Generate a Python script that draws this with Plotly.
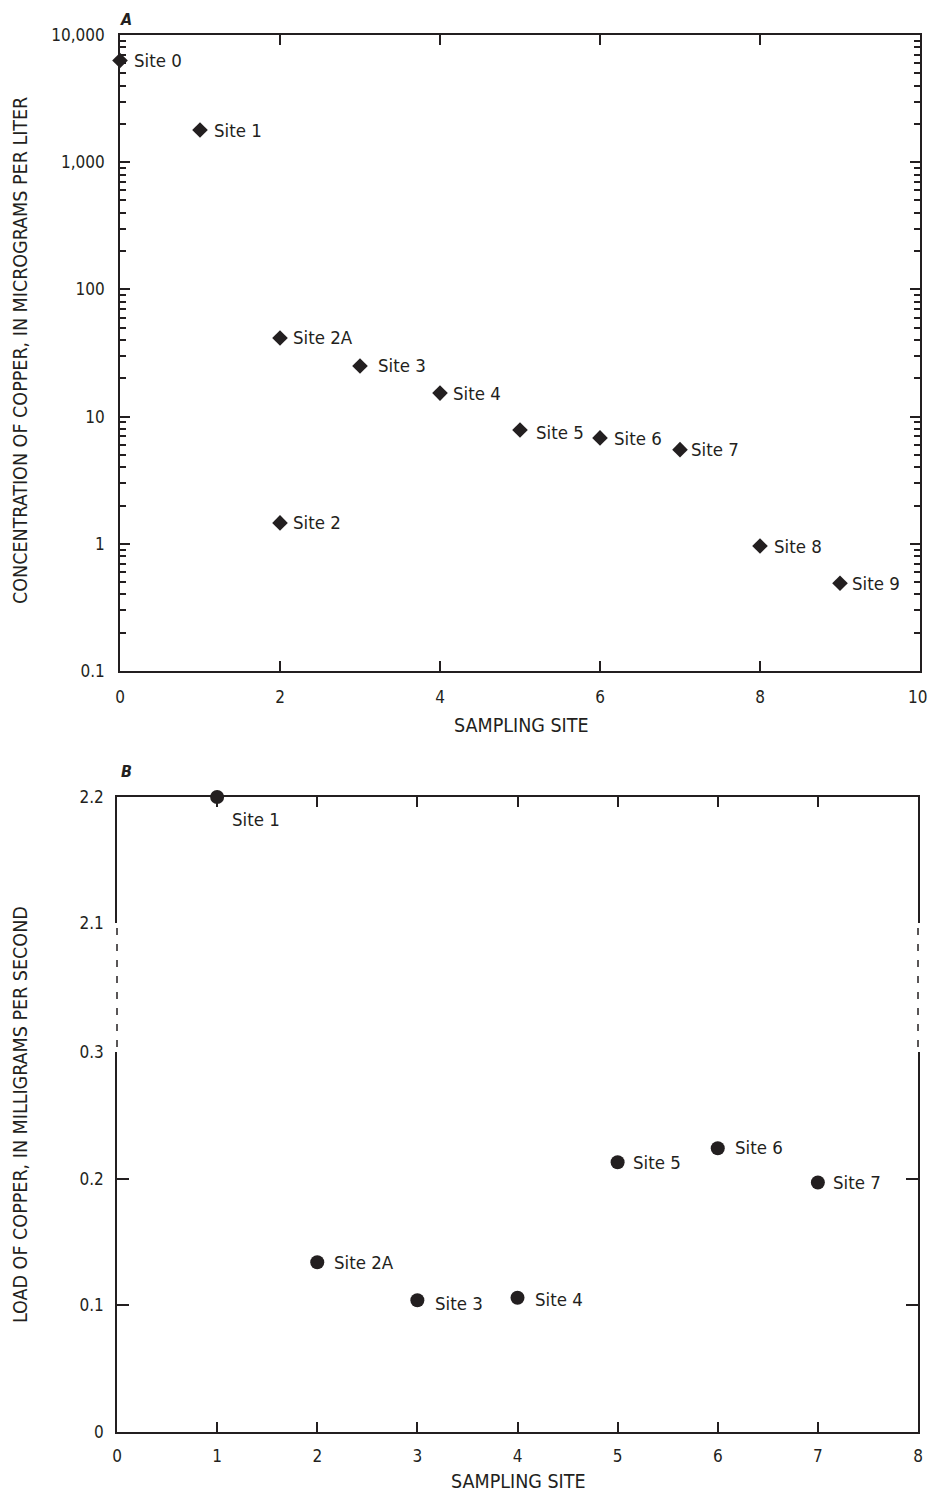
import math
import plotly.graph_objects as go

# ---------------- data ----------------
# Panel A: concentration of copper (micrograms per liter)
a_sites = ["Site 0", "Site 1", "Site 2A", "Site 2", "Site 3", "Site 4",
           "Site 5", "Site 6", "Site 7", "Site 8", "Site 9"]
a_x = [0, 1, 2, 2, 3, 4, 5, 6, 7, 8, 9]
a_conc = [6300, 1790, 41.5, 1.46, 25, 15.3, 7.85, 6.8, 5.5, 0.96, 0.49]
a_ticks = [0.1, 1, 10, 100, 1000, 10000]
a_ticktext = ["0.1", "1", "10", "100", "1,000", "10,000"]
a_xticks = [0, 2, 4, 6, 8, 10]

# Panel B: load of copper (milligrams per second)
b_sites = ["Site 1", "Site 2A", "Site 3", "Site 4", "Site 5", "Site 6", "Site 7"]
b_x = [1, 2, 3, 4, 5, 6, 7]
b_load = [2.2, 0.134, 0.104, 0.106, 0.213, 0.224, 0.197]
b_low_ticks = [0, 0.1, 0.2, 0.3]
b_high_ticks = [2.1, 2.2]
b_xticks = [0, 1, 2, 3, 4, 5, 6, 7, 8]

# ---------------- style ----------------
PAGE_W, PAGE_H = 936, 1502
BODY = 8  # default page margin around the plot div
W, H = PAGE_W - 2 * BODY, PAGE_H - 2 * BODY
INK = "#231f20"
FONT = "DejaVu Sans Condensed, Liberation Sans Narrow, Roboto, sans-serif"
FS_TICK = 17
FS_LAB = 18.5
FS_TITLE = 19.5
# label offsets in pixels (style only)
a_lab_dx = [12, 12, 11, 11, 16, 11, 14, 12, 9, 12, 10]
a_lab_dy = [0, 0, 0, 0, 0, 0, -3, -1, 0, 0, 0]
b_lab_dx = [13, 15, 16, 15, 13, 15, 13]
b_lab_dy = [-22, 0, -3, -2, 0, 1, 0]


def px_x(p):
    return (p - BODY) / W


def px_y(p):
    return 1 - (p - BODY) / H


fig = go.Figure()

# Panel A
fig.add_trace(go.Scatter(x=a_x, y=a_conc, mode="markers", xaxis="x", yaxis="y",
                         marker=dict(symbol="diamond", size=12, color=INK),
                         cliponaxis=False, showlegend=False))
# Panel B (split axis)
b_low_x = [x for x, v in zip(b_x, b_load) if v <= 0.3]
b_low_y = [v for v in b_load if v <= 0.3]
b_high_x = [x for x, v in zip(b_x, b_load) if v >= 2.1]
b_high_y = [v for v in b_load if v >= 2.1]
fig.add_trace(go.Scatter(x=b_low_x, y=b_low_y, mode="markers", xaxis="x2", yaxis="y2",
                         marker=dict(symbol="circle", size=14, color=INK),
                         cliponaxis=False, showlegend=False))
fig.add_trace(go.Scatter(x=b_high_x, y=b_high_y, mode="markers", xaxis="x3", yaxis="y3",
                         marker=dict(symbol="circle", size=14, color=INK),
                         cliponaxis=False, showlegend=False))

lab_font = dict(size=FS_LAB, color=INK, family=FONT)
title_font = dict(size=FS_TITLE, color=INK, family=FONT)
ann = []
for s, x, y, dx, dy in zip(a_sites, a_x, a_conc, a_lab_dx, a_lab_dy):
    # annotations on a log axis take log10 positions
    ann.append(dict(x=x, y=math.log10(y), xref="x", yref="y", text=s, showarrow=False,
                    xanchor="left", yanchor="middle", xshift=dx, yshift=dy,
                    font=lab_font))
for s, x, y, dx, dy in zip(b_sites, b_x, b_load, b_lab_dx, b_lab_dy):
    if y >= 2.1:
        xr, yr = "x3", "y3"
    else:
        xr, yr = "x2", "y2"
    ann.append(dict(x=x, y=y, xref=xr, yref=yr, text=s, showarrow=False,
                    xanchor="left", yanchor="middle", xshift=dx, yshift=dy,
                    font=lab_font))

# last x tick label of panel A sits at the page edge: keep it inside the page
a_xticktext = [str(v) for v in a_xticks]
last_label = a_xticktext[-1]
a_xticktext[-1] = ""
ann.append(dict(x=1, y=px_y(697), xref="paper", yref="paper", text=last_label,
                showarrow=False, xanchor="right", yanchor="middle", borderpad=0,
                font=dict(size=FS_TICK, color=INK, family=FONT)))

# axis titles and panel letters
ann += [
    dict(x=px_x(126), y=px_y(9), xref="paper", yref="paper", text="<b><i>A</i></b>",
         showarrow=False, xanchor="center", yanchor="top", borderpad=0,
         font=dict(size=16, color=INK, family=FONT)),
    dict(x=px_x(126), y=px_y(772), xref="paper", yref="paper", text="<b><i>B</i></b>",
         showarrow=False, xanchor="center", yanchor="middle",
         font=dict(size=16, color=INK, family=FONT)),
    dict(x=px_x(521), y=px_y(725), xref="paper", yref="paper", text="SAMPLING SITE",
         showarrow=False, xanchor="center", yanchor="middle", font=title_font),
    dict(x=px_x(519), y=px_y(1494), xref="paper", yref="paper", text="SAMPLING SITE",
         showarrow=False, xanchor="center", yanchor="bottom", borderpad=0,
         font=title_font),
    dict(x=px_x(20), y=px_y(351), xref="paper", yref="paper",
         text="CONCENTRATION OF COPPER, IN MICROGRAMS PER LITER", textangle=-90,
         showarrow=False, xanchor="center", yanchor="middle", font=title_font),
    dict(x=px_x(20), y=px_y(1115), xref="paper", yref="paper",
         text="LOAD OF COPPER, IN MILLIGRAMS PER SECOND", textangle=-90,
         showarrow=False, xanchor="center", yanchor="middle", font=title_font),
]

# dashed break lines in panel B
shapes = []
for xp in (117, 918):
    shapes.append(dict(type="line", xref="paper", yref="paper",
                       x0=px_x(xp), x1=px_x(xp), y0=px_y(928), y1=px_y(1047),
                       line=dict(color=INK, width=1.5, dash="7px,9px")))

tickfont = dict(size=FS_TICK, color=INK, family=FONT)
common = dict(showgrid=False, zeroline=False, showline=True, linecolor=INK, linewidth=1.6,
              ticks="inside", tickcolor=INK, tickwidth=1.6, tickfont=tickfont,
              automargin=False, ticklabeloverflow="allow")

fig.update_layout(
    width=W, height=H, autosize=False,
    margin=dict(l=0, r=0, t=0, b=0, pad=0),
    paper_bgcolor="white", plot_bgcolor="white",
    font=dict(family=FONT, color=INK),
    annotations=ann, shapes=shapes,
    xaxis=dict(**common, domain=[px_x(120), px_x(920)], range=[0, 10],
               tickvals=a_xticks, ticktext=a_xticktext, ticklen=10, mirror="allticks",
               anchor="y", ticklabelstandoff=10),
    yaxis=dict(**common, domain=[px_y(671), px_y(35)], type="log",
               range=[-1, 4], tickvals=a_ticks, ticktext=a_ticktext, ticklen=10,
               mirror="allticks", anchor="x", ticklabelstandoff=10,
               minor=dict(ticks="inside", ticklen=6, tickcolor=INK, tickwidth=1.6,
                          dtick="D1", showgrid=False)),
    xaxis2=dict(**common, domain=[px_x(117), px_x(918)], range=[0, 8],
                tickvals=b_xticks, ticklen=10, anchor="y2",
                ticklabelstandoff=8),
    yaxis2=dict(**common, domain=[px_y(1432), px_y(1052)], range=[0, 0.3],
                tickvals=b_low_ticks, ticktext=["0", "0.1", "0.2", "0.3"],
                ticklen=12, mirror="allticks", anchor="x2", ticklabelstandoff=8),
    xaxis3=dict(**common, domain=[px_x(117), px_x(918)], range=[0, 8],
                tickvals=b_xticks, ticklen=10, anchor="y3", side="top",
                showticklabels=False, matches="x2"),
    yaxis3=dict(**common, domain=[px_y(923), px_y(797)], range=[2.1, 2.2],
                tickvals=b_high_ticks, ticktext=["2.1", "2.2"],
                ticklen=12, mirror="allticks", anchor="x3", ticklabelstandoff=8),
)

fig.write_html("out.html")
